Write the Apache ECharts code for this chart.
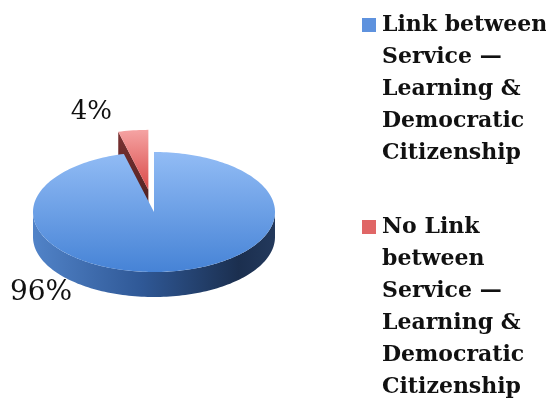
<!DOCTYPE html>
<html>
<head>
<meta charset="utf-8">
<script src="https://cdn.jsdelivr.net/npm/echarts@6/dist/echarts.min.js"></script>
<style>html,body{margin:0;padding:0;background:#fff}#c{width:546px;height:400px}</style>
</head>
<body>
<div id="c"></div>
<script>
const categories = [
  'Link between Service — Learning & Democratic Citizenship',
  'No Link between Service — Learning & Democratic Citizenship'
];
const values = [96, 4];
const valueLabels = values.map(v => v + '%');

// styling / geometry config
const geo = { cx: 154, cy: 212, rx: 121, ry: 60, h: 25 };
const explode = [0, 45];
const labelAngle = [135, 250];
const labelF = [1.32, 1.38];
const labelSize = [28, 26];
const topColors = [['#92bcf5', '#4683d6'], ['#f5a3a3', '#d94a48']];
const sideColors = [
  [[0, '#5183c8'], [0.45, '#2f5896'], [0.85, '#1b2f4f'], [1, '#23395c']],
  [[0, '#7a3131'], [1, '#4a2020']]
];
const legendColors = ['#5e92de', '#e06666'];
const legendTops = [9, 211];

const total = values.reduce((a, b) => a + b, 0);
const d2r = Math.PI / 180;

function makeRender(i) {
  return function (params, api) {
    const v = api.value(0);
    let before = 0;
    for (let k = 0; k < i; k++) before += values[k];
    const s = -90 + before / total * 360;
    const e = s + v / total * 360;
    const mid = (s + e) / 2;
    const ox = explode[i] * Math.cos(mid * d2r);
    const oy = explode[i] * Math.sin(mid * d2r) * geo.ry / geo.rx;
    const c0 = geo.cx + ox, c1 = geo.cy + oy;
    const P = (t, dz) => [c0 + geo.rx * Math.cos(t * d2r), c1 + geo.ry * Math.sin(t * d2r) + (dz || 0)];
    const arc = (a, b, dz) => {
      const pts = [];
      const n = Math.max(2, Math.ceil(Math.abs(b - a) / 1.5));
      for (let j = 0; j <= n; j++) pts.push(P(a + (b - a) * j / n, dz));
      return pts;
    };
    const base = Math.round(Math.sin(mid * d2r) * 10) * 3;
    const children = [];
    [[0, 180], [360, 540], [-360, -180]].forEach(([fa, fb]) => {
      const a = Math.max(s, fa), b = Math.min(e, fb);
      if (b > a) {
        const pts = arc(a, b, 0).concat(arc(b, a, geo.h));
        children.push({
          type: 'polygon', z2: base,
          shape: { points: pts },
          style: { fill: new echarts.graphic.LinearGradient(0, 0, 1, 0, sideColors[i].map(([o, c]) => ({ offset: o, color: c }))) }
        });
      }
    });
    const C = [c0, c1], Ch = [c0, c1 + geo.h];
    if (-Math.cos(s * d2r) > 0.02) {
      const ps = P(s, 0), psh = P(s, geo.h);
      children.push({ type: 'polygon', z2: base, shape: { points: [C, ps, psh, Ch] },
        style: { fill: new echarts.graphic.LinearGradient(0, 0, 0, 1, [{ offset: 0, color: sideColors[i][0][1] }, { offset: 1, color: sideColors[i][sideColors[i].length - 1][1] }]) } });
    }
    if (Math.cos(e * d2r) > 0.02) {
      const pe = P(e, 0), peh = P(e, geo.h);
      children.push({ type: 'polygon', z2: base, shape: { points: [C, pe, peh, Ch] },
        style: { fill: sideColors[i][sideColors[i].length - 1][1] } });
    }
    children.push({
      type: 'polygon', z2: base + 1,
      shape: { points: [C].concat(arc(s, e, 0)) },
      style: { fill: new echarts.graphic.LinearGradient(0, 0, 0, 1, [{ offset: 0, color: topColors[i][0] }, { offset: 1, color: topColors[i][1] }]) }
    });
    const la = labelAngle[i] * d2r;
    children.push({
      type: 'text', z2: 100,
      x: c0 + geo.rx * labelF[i] * Math.cos(la),
      y: c1 + geo.ry * labelF[i] * Math.sin(la) + (Math.sin(la) > 0 ? geo.h : 0),
      style: { text: valueLabels[i], fill: '#111', font: labelSize[i] + 'px "DejaVu Serif"', align: 'center', verticalAlign: 'middle' }
    });
    return { type: 'group', children };
  };
}

function wrap(name, maxChars) {
  const words = name.split(' ');
  const lines = [];
  let cur = '';
  words.forEach(w => {
    const t = cur ? cur + ' ' + w : w;
    if (t.length > maxChars && cur) { lines.push(cur); cur = w; } else cur = t;
  });
  if (cur) lines.push(cur);
  return lines;
}

const textStyle = { fontFamily: 'DejaVu Serif', fontWeight: 'bold', fontSize: 22, lineHeight: 32, color: '#111' };
const rich = { t: textStyle, gap: { width: 6, lineHeight: 32 }, ind: { width: 20, lineHeight: 32 } };
legendColors.forEach((c, i) => { rich['sq' + i] = { width: 14, height: 14, backgroundColor: c, lineHeight: 32, verticalAlign: 'middle' }; });

const chart = echarts.init(document.getElementById('c'));
chart.setOption({
  animation: false,
  legend: categories.map((n, i) => ({
    orient: 'vertical', left: 352, top: legendTops[i], itemWidth: 0, itemHeight: 0, icon: 'none',
    data: [{ name: n, icon: 'none' }],
    formatter: name => {
      const k = categories.indexOf(name);
      return wrap(name, 12).map((l, j) => (j === 0 ? '{sq' + k + '|}{gap|}' : '{ind|}') + '{t|' + l + '}').join('\n');
    },
    textStyle: { rich: rich }
  })),
  series: categories.map((n, i) => ({
    type: 'custom', name: n, coordinateSystem: 'none',
    data: [[values[i]]],
    renderItem: makeRender(i),
    itemStyle: { color: legendColors[i] }
  }))
});
</script>
</body>
</html>
